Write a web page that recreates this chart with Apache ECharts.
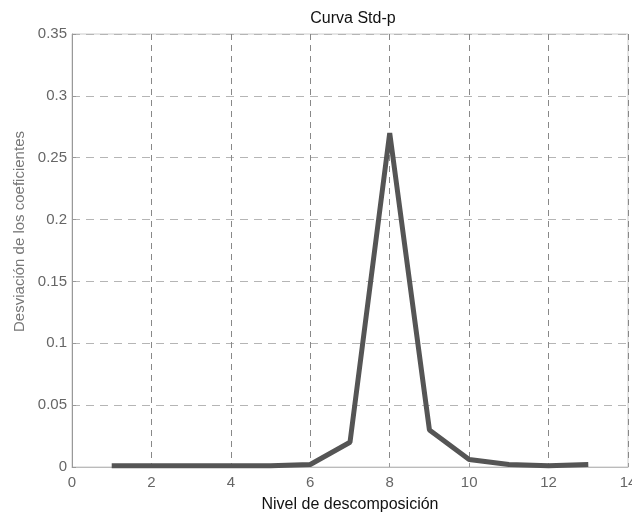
<!DOCTYPE html>
<html><head><meta charset="utf-8">
<script src="https://cdn.jsdelivr.net/npm/echarts@6/dist/echarts.min.js"></script>
<style>html,body{margin:0;padding:0;background:#fff}#c{width:632px;height:515px}</style>
</head><body><div id="c"></div>
<script>
const xValues = [1,2,3,4,5,6,7,8,9,10,11,12,13];
const stdValues = [0.001,0.001,0.001,0.001,0.001,0.002,0.020,0.27,0.03,0.006,0.002,0.001,0.002];
const chart = echarts.init(document.getElementById('c'));
const font = 'Liberation Sans, Arial, sans-serif';
chart.setOption({
  animation:false,
  backgroundColor:'#fff',
  title:{text:'Curva Std-p',left:348,textAlign:'center',top:6,textStyle:{fontFamily:font,fontSize:16,fontWeight:'normal',color:'#111'}},
  grid:{left:72,right:4,top:34,bottom:48,show:true,borderColor:'#ccc',borderWidth:1,outerBoundsMode:'none',containLabel:false},
  xAxis:{type:'value',min:0,max:14,interval:2,
    name:'Nivel de descomposición',nameLocation:'middle',nameGap:30,
    nameTextStyle:{fontFamily:font,fontSize:16,color:'#111'},
    axisLine:{show:true,lineStyle:{color:'#bbb'}},
    axisTick:{show:true,inside:true,length:4,lineStyle:{color:'#999'}},
    axisLabel:{fontFamily:font,fontSize:15,color:'#666',margin:8,hideOverlap:false},
    splitLine:{show:true,lineStyle:{type:[6,5],color:'#888',width:1}}},
  yAxis:{type:'value',min:0,max:0.35,interval:0.05,
    name:'Desviación de los coeficientes',nameLocation:'middle',nameGap:45,
    nameTextStyle:{fontFamily:font,fontSize:15,color:'#777',padding:[0,0,0,38]},
    axisLine:{show:true,lineStyle:{color:'#999'}},
    axisTick:{show:true,inside:true,length:4,lineStyle:{color:'#999'}},
    axisLabel:{fontFamily:font,fontSize:15,color:'#666',margin:5},
    splitLine:{show:true,lineStyle:{type:[8,6],color:'#b5b5b5',width:1}}},
  series:[{type:'line',data:xValues.map((x,i)=>[x,stdValues[i]]),
    showSymbol:false,lineStyle:{color:'#555',width:5},itemStyle:{color:'#555'}}]
});
</script></body></html>
